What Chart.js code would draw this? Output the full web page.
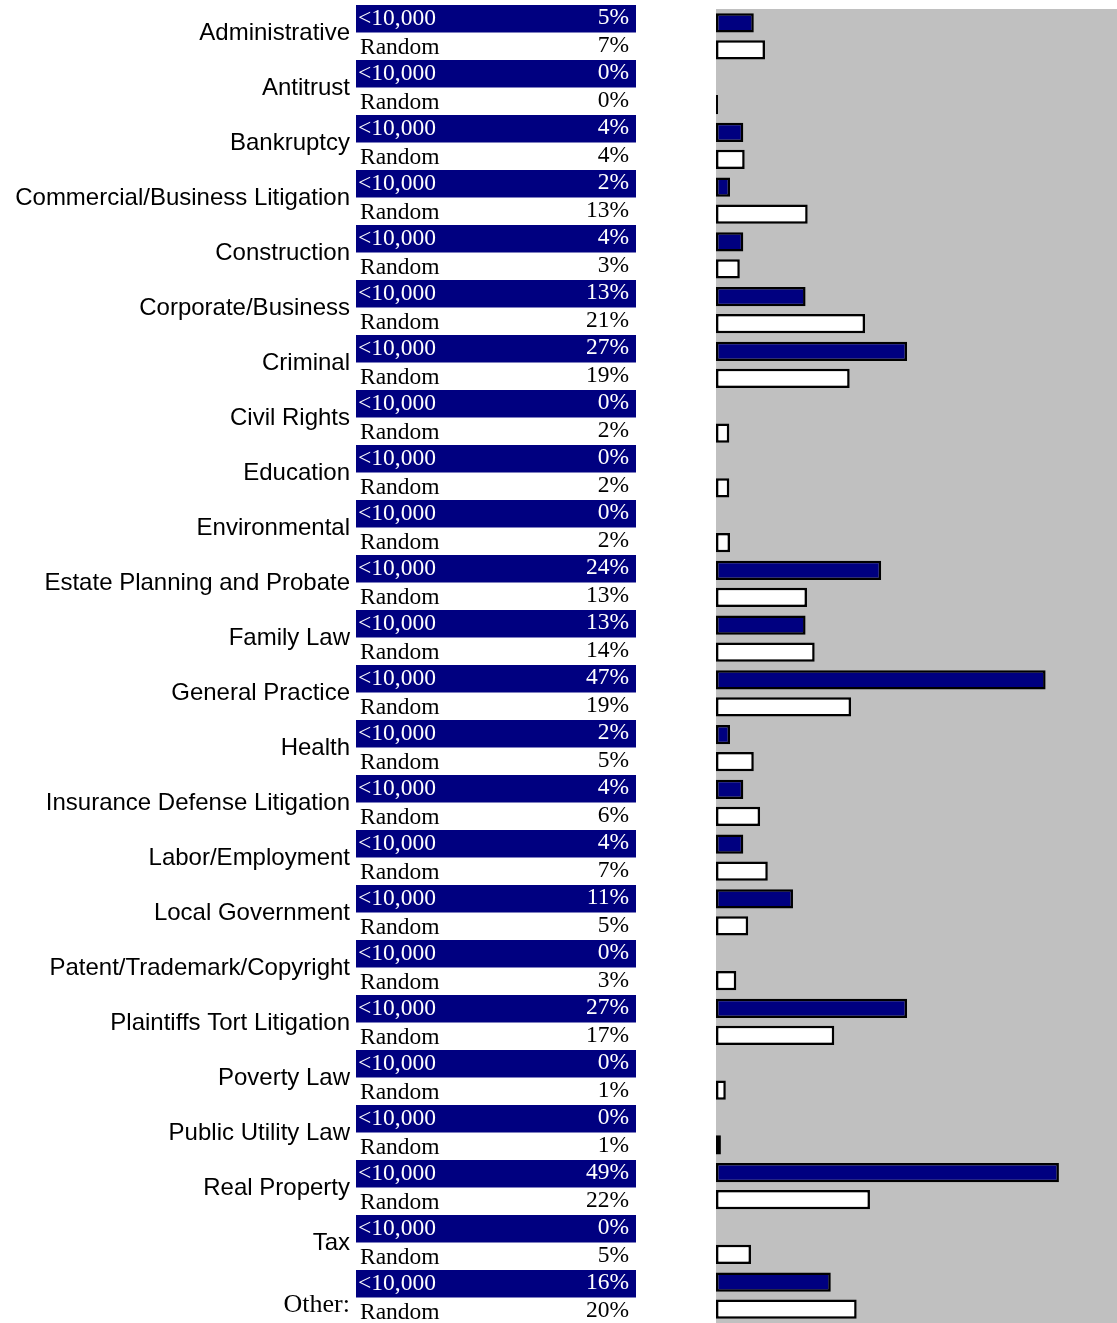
<!DOCTYPE html>
<html>
<head>
<meta charset="utf-8">
<script src="https://cdn.jsdelivr.net/npm/chart.js"></script>
<style>
body { margin: 0; background: #fff; overflow: hidden; }
#chart { position: absolute; left: 0; top: 0; }
</style>
</head>
<body>
<canvas id="chart" width="1117" height="1323"></canvas>
<script>

const categories = [
'Administrative', 'Antitrust', 'Bankruptcy',
'Commercial/Business Litigation', 'Construction',
'Corporate/Business', 'Criminal', 'Civil Rights',
'Education', 'Environmental', 'Estate Planning and Probate',
'Family Law', 'General Practice', 'Health',
'Insurance Defense Litigation', 'Labor/Employment',
'Local Government', 'Patent/Trademark/Copyright',
'Plaintiffs Tort Litigation', 'Poverty Law',
'Public Utility Law', 'Real Property', 'Tax', 'Other:'
];

const seriesNames = ['<10,000', 'Random'];

// percent of respondents (bar lengths)
const smallFirms = [
5.4, 0, 3.9, 2.0, 3.9, 12.8, 27.3, 0, 0, 0, 23.6, 12.8,
47.1, 2.0, 3.9, 3.9, 11.0, 0, 27.3, 0, 0, 49.0, 0, 16.4
];

const randomSample = [
7.0, 0.3, 4.1, 13.1, 3.4, 21.3, 19.1, 1.9, 1.9, 2.0, 13.0, 14.1,
19.3, 5.4, 6.3, 7.4, 4.6, 2.9, 16.9, 1.4, 0.7, 22.0, 5.0, 20.1
];

const NAVY = '#000080';
const SANS = '"Liberation Sans", Arial, sans-serif';
const SERIF = '"Liberation Serif", "Times New Roman", serif';

// left side table: category name, then one row per series with its value
const tablePlugin = {
id: 'table',
beforeDatasetsDraw(chart) {
const ctx = chart.ctx;
const area = chart.chartArea;

ctx.save();
ctx.fillStyle = '#c0c0c0';
ctx.fillRect(area.left, area.top, area.right - area.left, area.bottom - area.top);
ctx.restore();
},
afterDraw(chart) {
const ctx = chart.ctx;
const rowH = 27.5;

ctx.save();
ctx.textBaseline = 'middle';

categories.forEach((name, i) => {
const top = 5 + i * 55;

// <10,000 row
ctx.fillStyle = NAVY;
ctx.fillRect(356, top, 280, rowH);

ctx.font = '23.5px ' + SERIF;
ctx.fillStyle = '#fff';
ctx.textAlign = 'left';
ctx.fillText(seriesNames[0], 358, top + 14);
ctx.textAlign = 'right';
ctx.fillText(Math.round(smallFirms[i]) + '%', 629, top + 13);

// Random row
ctx.fillStyle = '#000';
ctx.textAlign = 'left';
ctx.fillText(seriesNames[1], 360, top + rowH + 15);
ctx.textAlign = 'right';
ctx.fillText(Math.round(randomSample[i]) + '%', 629, top + rowH + 13);

// category label
ctx.textAlign = 'right';
if (name === 'Other:') {
ctx.font = '26px ' + SERIF;
ctx.fillText(name, 350, top + 35);
} else {
ctx.font = '24px ' + SANS;
ctx.fillText(name, 350, top + rowH + 0.5);
}
});

ctx.restore();
}
};

new Chart(
document.getElementById('chart'),
{
type: 'bar',
data: {
labels: categories,
datasets: [
{
label: seriesNames[0],
data: smallFirms,
backgroundColor: NAVY,
borderColor: '#000',
borderWidth: 2.5,
borderSkipped: false
},
{
label: seriesNames[1],
data: randomSample,
backgroundColor: '#fff',
borderColor: '#000',
borderWidth: 2.5,
borderSkipped: false
}
]
},
options: {
indexAxis: 'y',
responsive: false,
animation: false,
devicePixelRatio: 1,
layout: {
padding: { left: 716, top: 9, right: 0, bottom: 0 }
},
datasets: {
bar: {
categoryPercentage: 0.986,
barPercentage: 0.72
}
},
scales: {
x: {
display: false,
min: 0,
max: 57.3
},
y: {
display: false
}
},
plugins: {
legend: { display: false },
tooltip: { enabled: false }
}
},
plugins: [tablePlugin]
}
);

</script>
</body>
</html>
